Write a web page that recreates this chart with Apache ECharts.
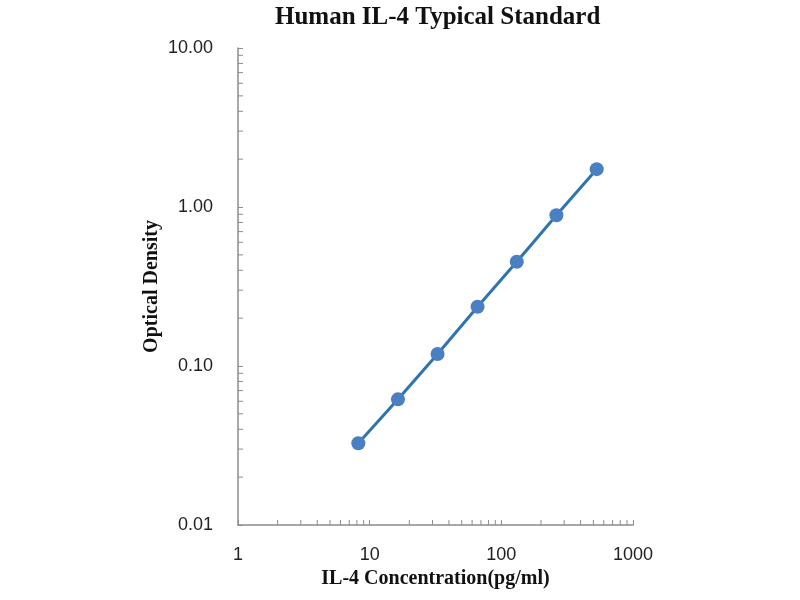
<!DOCTYPE html>
<html>
<head>
<meta charset="UTF-8">
<script src="https://cdn.jsdelivr.net/npm/echarts@6/dist/echarts.min.js"></script>
<style>html,body{margin:0;padding:0;background:#fff}</style>
</head>
<body>
<div id="graph" style="width:800px;height:600px;"></div>
<script>
var concentration = [8.2, 16.4, 32.8, 66, 131, 262, 530];
var density = [0.0327, 0.0617, 0.119, 0.236, 0.453, 0.887, 1.73];
var decadesX = [1, 10, 100];
var decadesY = [0.01, 0.1, 1];
var minorSteps = [2, 3, 4, 5, 6, 7, 8, 9];

var points = concentration.map(function (c, i) { return [c, density[i]]; });
var minorX = [], minorY = [];
decadesX.forEach(function (d) { minorSteps.forEach(function (m) { minorX.push([d * m]); }); });
decadesY.forEach(function (d) { minorSteps.forEach(function (m) { minorY.push([d * m]); }); });

var axisColor = '#8c8c8c';
var myChart = echarts.init(document.getElementById('graph'));
var option = {
	animation: false,
	title: {
		text: 'Human IL-4 Typical Standard',
		left: 270, top: 0,
		textStyle: { fontFamily: 'Liberation Serif', fontWeight: 'bold', fontSize: 25, color: '#111' }
	},
	grid: { left: 238, right: 167, top: 48, bottom: 75 },
	xAxis: {
		type: 'log', min: 1, max: 1000, logBase: 10,
		name: 'IL-4 Concentration(pg/ml)', nameLocation: 'middle', nameGap: 42,
		nameTextStyle: { fontFamily: 'Liberation Serif', fontWeight: 'bold', fontSize: 20, color: '#111' },
		axisLine: { lineStyle: { color: axisColor, width: 1.5 } },
		axisTick: { inside: true, length: 5, lineStyle: { color: axisColor } },
		axisLabel: {
			margin: 21, fontFamily: 'Liberation Sans', fontSize: 18, color: '#222',
			formatter: function (v) { return String(Math.round(v)); }
		},
		splitLine: { show: false }
	},
	yAxis: {
		type: 'log', min: 0.01, max: 10, logBase: 10,
		name: 'Optical Density', nameLocation: 'middle', nameGap: 76,
		nameTextStyle: { fontFamily: 'Liberation Serif', fontWeight: 'bold', fontSize: 20, color: '#111' },
		axisLine: { show: true, lineStyle: { color: axisColor, width: 1.5 } },
		axisTick: { show: true, inside: true, length: 5, lineStyle: { color: axisColor } },
		axisLabel: {
			margin: 25, fontFamily: 'Liberation Sans', fontSize: 18, color: '#222',
			formatter: function (v) { return Number(v).toFixed(2); }
		},
		splitLine: { show: false }
	},
	series: [
		{
			type: 'custom', data: minorX, silent: true, clip: false,
			renderItem: function (params, api) {
				var p = api.coord([api.value(0), 0.01]);
				return { type: 'line', shape: { x1: p[0], y1: p[1], x2: p[0], y2: p[1] - 5 },
					style: { stroke: axisColor, lineWidth: 1 } };
			}
		},
		{
			type: 'custom', data: minorY, silent: true, clip: false,
			encode: { y: 0 },
			renderItem: function (params, api) {
				var p = api.coord([1, api.value(0)]);
				return { type: 'line', shape: { x1: p[0], y1: p[1], x2: p[0] + 5, y2: p[1] },
					style: { stroke: axisColor, lineWidth: 1 } };
			}
		},
		{
			type: 'line', data: points,
			symbol: 'circle', symbolSize: 14,
			lineStyle: { color: '#2e74b0', width: 3 },
			itemStyle: { color: '#4a7fc1' }
		}
	]
};
myChart.setOption(option);
</script>
</body>
</html>
